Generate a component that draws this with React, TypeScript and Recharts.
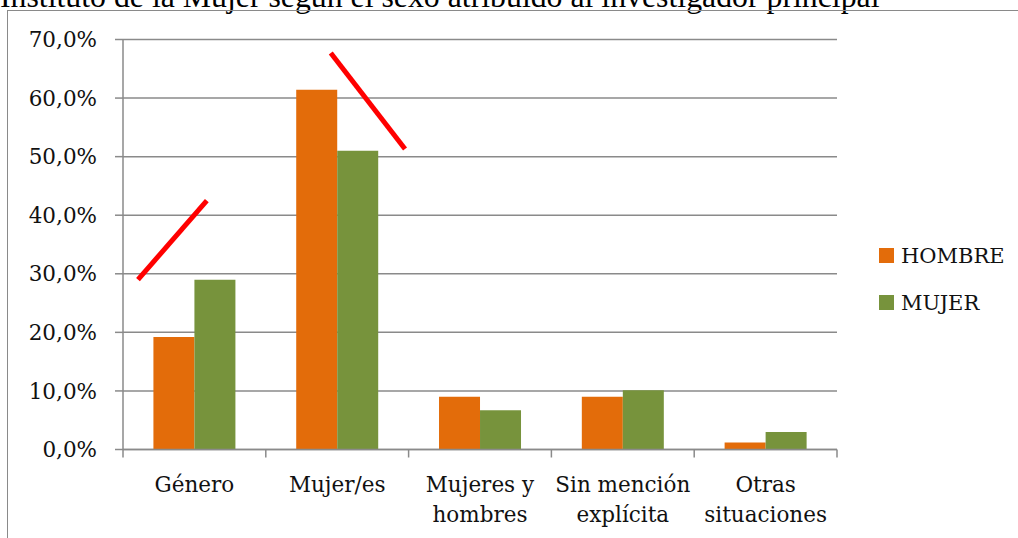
import React from "react";
import { BarChart, Bar, XAxis, YAxis, CartesianGrid, ReferenceLine } from "recharts";

const categories = ["Género", "Mujer/es", "Mujeres y\nhombres", "Sin mención\nexplícita", "Otras\nsituaciones"];
const hombre = [19.2, 61.4, 9.0, 9.0, 1.2];
const mujer = [29.0, 51.0, 6.7, 10.1, 3.0];
const yTicks = [0, 10, 20, 30, 40, 50, 60, 70];

// red hand-drawn marks, in (category position, percent) units
const mark1 = [{ x: 0.105, y: 29.0 }, { x: 0.587, y: 42.5 }];
const mark2 = [{ x: 1.455, y: 67.7 }, { x: 1.975, y: 51.3 }];

const series = [
  { key: "hombre", name: "HOMBRE", color: "#E36C0A" },
  { key: "mujer", name: "MUJER", color: "#77933C" },
];

// pos = category centre on a 0..n scale, used by the hidden annotation axis
const data = categories.map((c, i) => ({ cat: c, pos: i + 0.5, hombre: hombre[i], mujer: mujer[i] }));

const FONT = "'DejaVu Serif', serif";
const GRAY = "#8a8a8a";

const fmt = (v: number) => `${v.toFixed(1).replace(".", ",")}%`;

function CatTick(props: any) {
  const { x, y, payload, index, width } = props;
  const half = payload.offset ?? width / categories.length / 2;
  const lines = String(payload.value).split("\n");
  return (
    <g>
      <line x1={x - half} x2={x - half} y1={y} y2={y + 8} stroke={GRAY} strokeWidth={1.5} />
      {index === categories.length - 1 && (
        <line x1={x + half} x2={x + half} y1={y} y2={y + 8} stroke={GRAY} strokeWidth={1.5} />
      )}
      <text x={x} y={y} textAnchor="middle" fontFamily={FONT} fontSize={21.5} fill="#111">
        {lines.map((l, i) => (
          <tspan key={i} x={x} y={y + 42 + i * 30}>{l}</tspan>
        ))}
      </text>
    </g>
  );
}

export default function App() {
  return (
    <div style={{ position: "absolute", left: 0, top: 0, width: 1018, height: 538, overflow: "hidden", background: "#fff" }}>
      <div style={{
        position: "absolute", left: 0, top: -19, fontFamily: "'Liberation Serif', serif",
        fontSize: 31.8, lineHeight: "31.8px", whiteSpace: "nowrap", color: "#000",
      }}>
        Instituto de la Mujer según el sexo atribuido al investigador principal
      </div>
      <div style={{
        position: "absolute", left: 7, top: 10, width: 1011, height: 528,
        borderLeft: `1.5px solid ${GRAY}`, borderTop: `1.5px solid ${GRAY}`,
      }} />
      <div style={{ position: "absolute", left: 0, top: 0 }}>
        <BarChart width={1018} height={538} data={data}
          margin={{ top: 39.5, right: 181, bottom: 0, left: 0 }}
          barCategoryGap="21.3%" barGap={0}>
          <CartesianGrid vertical={false} stroke={GRAY} strokeWidth={1.5} />
          <XAxis dataKey="cat" height={88.5} axisLine={{ stroke: GRAY, strokeWidth: 1.5 }}
            tickLine={false} tickSize={0} tickMargin={0} interval={0} tick={<CatTick />} />
          <XAxis xAxisId="ann" dataKey="pos" type="number" domain={[0, categories.length]} allowDataOverflow hide />
          <YAxis width={123} domain={[0, 70]} ticks={yTicks} tickFormatter={fmt}
            axisLine={{ stroke: GRAY, strokeWidth: 1.5 }} tickLine={{ stroke: GRAY, strokeWidth: 1.5 }}
            tickSize={8} tickMargin={18} tick={{ fontFamily: FONT, fontSize: 21.5, fill: "#111" }} />
          {series.map(s => (
            <Bar key={s.key} dataKey={s.key} name={s.name} fill={s.color} isAnimationActive={false} />
          ))}
          <ReferenceLine xAxisId="ann" segment={mark1} stroke="#ff0000" strokeWidth={5} ifOverflow="visible" />
          <ReferenceLine xAxisId="ann" segment={mark2} stroke="#ff0000" strokeWidth={5} ifOverflow="visible" />
        </BarChart>
      </div>
      {series.map((s, i) => (
        <div key={s.key} style={{
          position: "absolute", left: 879, top: 246 + i * 47, display: "flex", alignItems: "flex-start",
          fontFamily: FONT, fontSize: 21, lineHeight: "21px", color: "#111",
        }}>
          <span style={{ width: 15, height: 15, background: s.color, marginTop: 2, marginRight: 7, display: "inline-block" }} />
          <span>{s.name}</span>
        </div>
      ))}
    </div>
  );
}
